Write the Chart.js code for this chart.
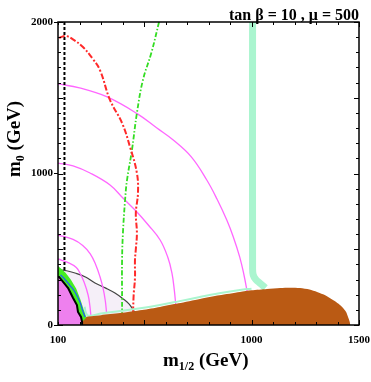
<!DOCTYPE html>
<html>
<head>
<meta charset="utf-8">
<script src="https://cdn.jsdelivr.net/npm/chart.js@4.4.0/dist/chart.umd.min.js"></script>
<style>html,body{margin:0;padding:0;background:#fff}canvas{display:block}</style>
</head>
<body>
<canvas id="c" width="371" height="382"></canvas>
<script>
// axis labels shown
const xTicks = [100, 1000, 1500];
const yTicks = [0, 1000, 2000];

// excluded (brown) region, top edge
const brownM12 = [212, 212, 300, 388, 491, 574, 660, 760, 850, 946, 1000, 1072, 1133, 1180, 1226, 1270, 1305, 1345, 1379, 1405, 1426, 1440, 1449, 1456, 1460];
const brownM0 = [0, 46, 65, 79, 99, 119, 143, 172, 196, 218, 229, 238, 244, 246, 244, 234, 218, 195, 165, 140, 112, 85, 53, 25, 0];

// light green strips
const bandM12 = [1005, 1005, 1008, 1020, 1040, 1065];
const bandM0 = [2000, 380, 330, 300, 275, 245];
const stripM12 = [224, 230, 240, 270, 300, 388, 491, 574, 660, 760, 850, 946, 1000];
const stripM0 = [120, 80, 62, 66, 76, 92, 112, 132, 156, 185, 209, 231, 240];

// magenta contours
const arcAM12 = [100, 200, 326, 466, 560, 636, 720, 792, 840, 885, 915, 945, 965, 980];
const arcAM0 = [1591, 1565, 1507, 1397, 1300, 1221, 1110, 957, 830, 693, 583, 450, 330, 220];
const arcBM12 = [100, 170, 249, 342, 402, 467, 520, 575, 610, 630, 641, 648];
const arcBM0 = [1069, 1050, 1003, 924, 838, 746, 660, 561, 450, 343, 230, 130];
const arcCM12 = [100, 170, 215, 250, 275, 295, 310, 320, 326];
const arcCM0 = [594, 565, 525, 470, 400, 320, 240, 160, 80];
const arcDM12 = [100, 150, 185, 202, 222, 240, 248, 253];
const arcDM0 = [436, 410, 380, 343, 280, 198, 130, 60];

// red and green dash-dot limits
const redM12 = [105, 137, 175, 216, 260, 295, 342, 398, 435, 467, 472, 462, 467, 462, 458, 458, 452, 449];
const redM0 = [1895, 1908, 1880, 1835, 1760, 1683, 1485, 1333, 1175, 1003, 871, 739, 607, 500, 429, 310, 200, 80];
const greenM12 = [570, 535, 495, 467, 444, 421, 412, 402, 398, 398, 398];
const greenM0 = [2000, 1800, 1617, 1399, 1155, 957, 825, 607, 429, 165, 80];

// chargino limit (dashed)
const dashM12 = [130, 130];
const dashM0 = [2000, 363];

// grey contour with shaded area below
const greyM12 = [100, 105, 140, 179, 230, 272, 320, 365, 405, 430, 444, 456];
const greyM0 = [363, 363, 358, 343, 315, 277, 245, 211, 170, 140, 112, 85];

// violet region and its green / blue edges
const violetM12 = [100, 105, 147, 170, 188, 193, 207, 212, 212];
const violetM0 = [317, 317, 244, 178, 132, 86, 53, 20, 0];
const gbandM12 = [100, 115, 135, 160, 185, 205, 220, 232, 212, 207, 193, 188, 170, 147, 105, 100];
const gbandM0 = [390, 372, 345, 298, 240, 165, 99, 50, 20, 53, 86, 132, 178, 244, 317, 317];
const blueM12 = [112, 133, 155, 179, 202, 216, 226];
const blueM0 = [330, 300, 262, 218, 152, 90, 53];

const serif = '"Liberation Serif", "DejaVu Serif", serif';

function pts(xs, ys) {
  return xs.map((v, i) => ({ x: v, y: ys[i] }));
}

function line(xs, ys, color, width, order, extra) {
  return Object.assign({
    data: pts(xs, ys),
    borderColor: color,
    borderWidth: width,
    pointRadius: 0,
    tension: 0.4,
    fill: false,
    order: order
  }, extra || {});
}

const datasets = [
  line(greyM12, greyM0, '#444444', 1.2, 20, { fill: 'origin', backgroundColor: '#f5eff8' }),
  line(arcAM12, arcAM0, '#ff66ff', 1.3, 15),
  line(arcBM12, arcBM0, '#ff66ff', 1.3, 15),
  line(arcCM12, arcCM0, '#ff66ff', 1.3, 15),
  line(arcDM12, arcDM0, '#ff66ff', 1.3, 15),
  line(redM12, redM0, '#ff2a2a', 2, 14, { borderDash: [6, 2, 2, 2] }),
  line(greenM12, greenM0, '#33dd22', 1.8, 14, { borderDash: [5, 2, 1.5, 2] }),
  line(dashM12, dashM0, '#000000', 2, 14, { borderDash: [3, 2], tension: 0 }),
  line(bandM12, bandM0, '#aaf5cf', 7, 13),
  line(stripM12, stripM0, '#aaf5cf', 2, 13),
  line(brownM12, brownM0, '#ba5a14', 0, 12, { fill: 'origin', backgroundColor: '#ba5a14', tension: 0.25 }),
  line(violetM12, violetM0, '#ee80ee', 0, 11, { fill: 'origin', backgroundColor: '#ee80ee', tension: 0 }),
  line(gbandM12, gbandM0, '#44ee22', 0, 10, { fill: 'shape', backgroundColor: '#44ee22', tension: 0 }),
  line(blueM12, blueM0, '#2255ff', 1.2, 9),
  line(violetM12, violetM0, '#000000', 2, 8, { tension: 0 })
];

const frame = {
  id: 'frame',
  afterDatasetsDraw(chart) {
    const { ctx, chartArea: a, scales: { x, y } } = chart;
    ctx.save();
    ctx.strokeStyle = '#000';
    ctx.lineWidth = 1;
    ctx.beginPath();
    for (let v = 100; v <= 1500; v += 100) {
      const px = Math.round(x.getPixelForValue(v)) + 0.5;
      const len = v % 500 === 0 ? 5 : 3;
      ctx.moveTo(px, a.bottom); ctx.lineTo(px, a.bottom - len);
      ctx.moveTo(px, a.top); ctx.lineTo(px, a.top + len);
    }
    for (let v = 0; v <= 2000; v += 100) {
      const py = Math.round(y.getPixelForValue(v)) + 0.5;
      const len = v % 500 === 0 ? 5 : 3;
      ctx.moveTo(a.left, py); ctx.lineTo(a.left + len, py);
      ctx.moveTo(a.right, py); ctx.lineTo(a.right - len, py);
    }
    ctx.stroke();
    ctx.lineWidth = 1.5;
    ctx.strokeRect(a.left, a.top, a.right - a.left, a.bottom - a.top);
    ctx.restore();
  },
  afterDraw(chart) {
    const ctx = chart.ctx;
    function label(x0, y0, main, sub, rest) {
      ctx.textAlign = 'left';
      ctx.textBaseline = 'alphabetic';
      ctx.font = 'bold 19px ' + serif;
      ctx.fillText(main, x0, y0);
      let w = ctx.measureText(main).width;
      ctx.font = 'bold 12px ' + serif;
      ctx.fillText(sub, x0 + w, y0 + 4);
      w += ctx.measureText(sub).width;
      ctx.font = 'bold 19px ' + serif;
      ctx.fillText(rest, x0 + w, y0);
    }
    ctx.save();
    ctx.fillStyle = '#000';
    label(163, 366, 'm', '1/2', ' (GeV)');
    ctx.translate(20, 177);
    ctx.rotate(-Math.PI / 2);
    label(0, 0, 'm', '0', ' (GeV)');
    ctx.restore();

    ctx.save();
    ctx.fillStyle = '#000';
    ctx.font = 'bold 16px ' + serif;
    ctx.textAlign = 'right';
    ctx.textBaseline = 'alphabetic';
    ctx.fillText('tan \u03b2 = 10 , \u03bc = 500', 359, 20);
    ctx.restore();
  }
};

new Chart(document.getElementById('c'), {
  type: 'line',
  data: { datasets: datasets },
  options: {
    responsive: false,
    animation: false,
    devicePixelRatio: 1,
    layout: { padding: { top: 22, right: 12, bottom: 0, left: 0 } },
    plugins: {
      legend: { display: false },
      tooltip: { enabled: false },
      filler: { propagate: false }
    },
    scales: {
      x: {
        type: 'linear',
        min: 100,
        max: 1500,
        afterBuildTicks: s => { s.ticks = xTicks.map(v => ({ value: v })); },
        afterFit: s => { s.height = 57; s.paddingLeft = 0; s.paddingRight = 0; },
        grid: { display: true, drawOnChartArea: false, drawTicks: false },
        border: { display: false },
        ticks: { color: '#000', padding: 9, maxRotation: 0, autoSkip: false, callback: v => String(v), font: { family: serif, size: 11, weight: 'bold' } }
      },
      y: {
        type: 'linear',
        min: 0,
        max: 2000,
        afterBuildTicks: s => { s.ticks = yTicks.map(v => ({ value: v })); },
        afterFit: s => { s.width = 58; s.paddingTop = 0; s.paddingBottom = 0; },
        grid: { display: true, drawOnChartArea: false, drawTicks: true, tickLength: 4, color: '#000' },
        border: { display: false },
        ticks: { color: '#000', padding: 1, callback: v => String(v), font: { family: serif, size: 11, weight: 'bold' } }
      }
    }
  },
  plugins: [frame]
});
</script>
</body>
</html>
